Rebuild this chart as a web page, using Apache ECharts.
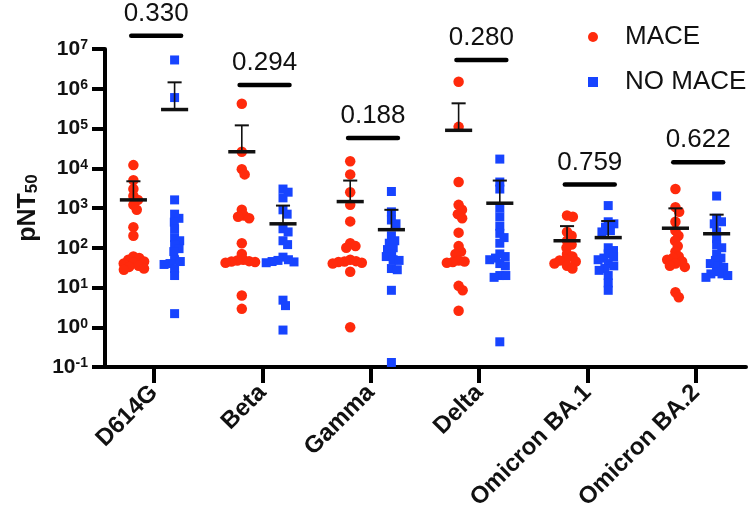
<!DOCTYPE html>
<html><head><meta charset="utf-8">
<script src="https://cdn.jsdelivr.net/npm/echarts@6/dist/echarts.min.js"></script>
<style>html,body{margin:0;padding:0;background:#fff}#c{width:750px;height:513px}</style>
</head><body><div id="c"></div>
<script>
const categories = ['D614G','Beta','Gamma','Delta','Omicron BA.1','Omicron BA.2'];
const seriesNames = ['MACE','NO MACE'];
const maceValues = [
  [12000,5000,3000,2000,1600,1200,900,330,200,60,55,50,45,42,40,35,33,30,28],
  [420000,26000,9500,7000,900,650,600,550,130,70,50,48,46,45,44,42,6.3,2.9],
  [15000,7000,2500,1200,460,130,110,100,50,46,45,44,42,40,25,1.0],
  [1500000,110000,4500,1200,900,700,550,240,110,80,70,48,45,44,42,11,8.5,2.6],
  [650,600,250,200,150,120,100,70,60,50,48,45,40,35,30],
  [3000,1050,800,450,270,200,150,110,80,60,55,50,45,40,35,33,7.6,5.7]
];
const noMaceValues = [
  [5300000,600000,1600,700,550,440,300,180,150,120,95,80,50,45,40,38,30,20,2.2],
  [3000,2500,1800,900,700,300,250,150,120,58,50,48,45,44,42,4.8,3.5,0.85],
  [2600,800,500,400,200,150,130,100,90,70,60,50,48,30,28,8.5,0.13],
  [17000,4500,3000,1000,600,350,230,180,130,70,60,55,50,40,35,20,20,18,0.43],
  [1150,450,400,330,270,250,100,85,70,60,55,50,40,35,30,27,20,13,8.5],
  [2000,550,450,400,250,170,120,100,70,55,48,40,35,32,25,22,22,20,18]
];
const maceMean = [1600,26000,1450,90000,150,310];
const maceSemTop = [4700,120000,4900,430000,350,980];
const noMaceMean = [300000,400,285,1320,180,225];
const noMaceSemTop = [1450000,1150,900,4900,470,680];
const pValues = ['0.330','0.294','0.188','0.280','0.759','0.622'];
const pBarLevel = [2.16e7,1.245e6,5.8e4,5.3e6,3.9e3,1.415e4];

const FONT = "'Liberation Sans', Arial, Helvetica, sans-serif";
const RED = '#ff2a0c', BLUE = '#1744ff';
const GROUP_OFF = [-0.19, 0.19];
// approximate scale factors, used only for the beeswarm spread
const PX_PER_CAT = 108.4, PX_PER_DEC = 39.8, MIN_DIST = 6;

function swarm(values, center) {
  const pts = values.map(v => ({ v, y: Math.log10(v) * PX_PER_DEC, x: 0 }));
  const order = pts.slice().sort((a, b) => b.y - a.y);
  const placed = [];
  for (const p of order) {
    const near = placed.filter(q => Math.abs(q.y - p.y) < MIN_DIST);
    const cands = [0];
    near.forEach(q => {
      const dx = Math.sqrt(MIN_DIST * MIN_DIST - (q.y - p.y) * (q.y - p.y));
      cands.push(q.x + dx, q.x - dx);
    });
    cands.sort((a, b) => Math.abs(a) - Math.abs(b) || b - a);
    let chosen = 0;
    for (const c of cands) {
      if (near.every(q => (q.x - c) ** 2 + (q.y - p.y) ** 2 >= MIN_DIST * MIN_DIST - 0.01)) { chosen = c; break; }
    }
    p.x = chosen;
    placed.push(p);
  }
  return pts.map(p => [center + p.x / PX_PER_CAT, p.v]);
}

const maceData = [], noMaceData = [];
categories.forEach((c, i) => {
  swarm(maceValues[i], i + GROUP_OFF[0]).forEach(d => maceData.push(d));
  swarm(noMaceValues[i], i + GROUP_OFF[1]).forEach(d => noMaceData.push(d));
});

const statData = [];
categories.forEach((c, i) => {
  statData.push([i + GROUP_OFF[0], maceMean[i], maceSemTop[i]]);
  statData.push([i + GROUP_OFF[1], noMaceMean[i], noMaceSemTop[i]]);
});
const pData = categories.map((c, i) => [i, pBarLevel[i]]);

const chart = echarts.init(document.getElementById('c'), null, { renderer: 'canvas' });
chart.setOption({
  animation: false,
  backgroundColor: '#fff',
  textStyle: { fontFamily: FONT },
  grid: { left: 105, right: 4, top: 49, bottom: 146, containLabel: false, outerBoundsMode: 'none' },
  legend: {
    orient: 'vertical', left: 588, top: 24, padding: 0, itemGap: 19,
    itemWidth: 10, itemHeight: 10,
    textStyle: { fontSize: 26, color: '#111', fontFamily: FONT, lineHeight: 26, padding: [0, 0, 0, 22] },
    data: [{ name: seriesNames[0], icon: 'circle' }, { name: seriesNames[1], icon: 'rect' }]
  },
  xAxis: {
    type: 'value', min: -0.452, max: 5.461,
    splitLine: { show: false },
    axisLine: { onZero: false, lineStyle: { color: '#000', width: 4 } },
    axisTick: { customValues: [0, 1, 2, 3, 4, 5], length: 16, lineStyle: { color: '#000', width: 4 } },
    axisLabel: {
      customValues: [0, 1, 2, 3, 4, 5], rotate: 45, margin: 22,
      fontSize: 24, fontWeight: 'bold', color: '#111', fontFamily: FONT,
      formatter: v => categories[Math.round(v)]
    }
  },
  yAxis: {
    type: 'log', logBase: 10, min: 0.1, max: 1e7, splitNumber: 8,
    name: '{a|pNT}{b|50}', nameLocation: 'middle', nameGap: 54,
    nameTextStyle: {
      rich: {
        a: { fontSize: 25, fontWeight: 'bold', color: '#111', fontFamily: FONT },
        b: { fontSize: 17, fontWeight: 'bold', color: '#111', fontFamily: FONT, verticalAlign: 'bottom', padding: [10, 0, 0, 0] }
      }
    },
    splitLine: { show: false },
    axisLine: { onZero: false, lineStyle: { color: '#000', width: 4 } },
    axisTick: { length: 13, lineStyle: { color: '#000', width: 4 } },
    axisLabel: {
      margin: 17,
      formatter: v => '{b|10}{s|' + Math.round(Math.log10(v)) + '}',
      rich: {
        b: { fontSize: 21, fontWeight: 'bold', color: '#111', fontFamily: FONT },
        s: { fontSize: 14, fontWeight: 'bold', color: '#111', fontFamily: FONT, verticalAlign: 'top' }
      }
    }
  },
  series: [
    {
      name: seriesNames[0], type: 'scatter', symbol: 'circle', symbolSize: 10.5,
      itemStyle: { color: RED, opacity: 1 }, data: maceData, z: 2, clip: false
    },
    {
      name: seriesNames[1], type: 'scatter', symbol: 'rect', symbolSize: 9,
      itemStyle: { color: BLUE, opacity: 1 }, data: noMaceData, z: 2, clip: false
    },
    {
      type: 'custom', z: 5, clip: false, silent: true, data: statData,
      renderItem: (params, api) => {
        const x = api.value(0), m = api.value(1), t = api.value(2);
        const pm = api.coord([x, m]), pt = api.coord([x, t]);
        const ml = api.coord([x - 0.125, m]), mr = api.coord([x + 0.125, m]);
        const cl = api.coord([x - 0.065, t]), cr = api.coord([x + 0.065, t]);
        return {
          type: 'group', children: [
            { type: 'line', shape: { x1: pm[0], y1: pm[1], x2: pt[0], y2: pt[1] }, style: { stroke: '#111', lineWidth: 1.6 } },
            { type: 'line', shape: { x1: cl[0], y1: cl[1], x2: cr[0], y2: cr[1] }, style: { stroke: '#111', lineWidth: 2 } },
            { type: 'line', shape: { x1: ml[0], y1: ml[1], x2: mr[0], y2: mr[1] }, style: { stroke: '#111', lineWidth: 3.5 } }
          ]
        };
      }
    },
    {
      type: 'custom', z: 5, clip: false, silent: true, data: pData,
      renderItem: (params, api) => {
        const i = api.value(0), lv = api.value(1);
        const a = api.coord([i - 0.21, lv]), b = api.coord([i + 0.25, lv]);
        return {
          type: 'group', children: [
            { type: 'line', shape: { x1: a[0], y1: a[1], x2: b[0], y2: b[1] }, style: { stroke: '#000', lineWidth: 4.5, lineCap: 'round' } },
            { type: 'text', x: (a[0] + b[0]) / 2, y: a[1] - 22,
              style: { text: pValues[params.dataIndex], fontSize: 26, fontFamily: FONT, fill: '#111',
                       align: 'center', verticalAlign: 'middle', textAlign: 'center', textVerticalAlign: 'middle' } }
          ]
        };
      }
    }
  ]
});
</script></body></html>
